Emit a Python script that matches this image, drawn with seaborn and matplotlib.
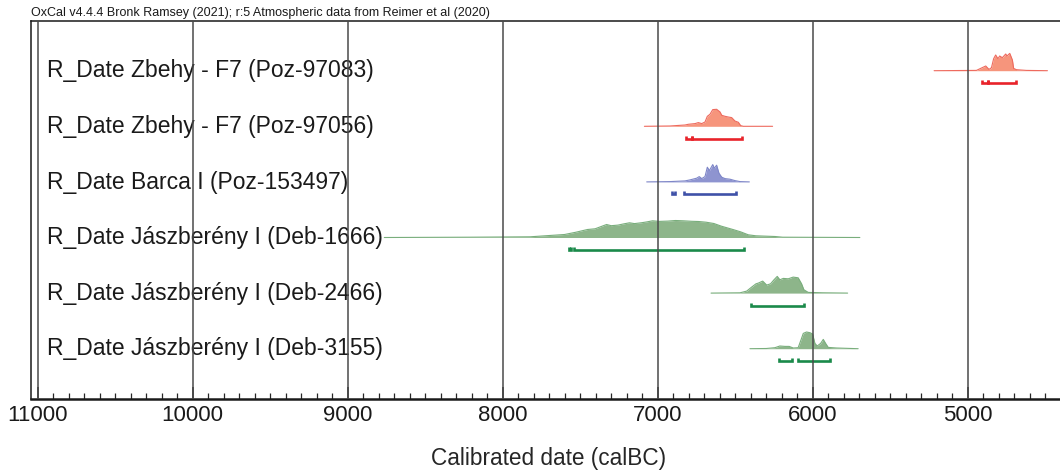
import matplotlib
matplotlib.use("Agg")
import matplotlib.pyplot as plt
import matplotlib.transforms as mtransforms
from matplotlib.ticker import MultipleLocator
import seaborn as sns

# sample labels, top to bottom
labels = [
    "R_Date Zbehy - F7 (Poz-97083)",
    "R_Date Zbehy - F7 (Poz-97056)",
    "R_Date Barca I (Poz-153497)",
    "R_Date Jászberény I (Deb-1666)",
    "R_Date Jászberény I (Deb-2466)",
    "R_Date Jászberény I (Deb-3155)",
]

# calibrated curves: calBC years and relative probability
poz97083_cal = [5217, 4944, 4884, 4863, 4847, 4833, 4820, 4805, 4794, 4777, 4755, 4747, 4729, 4712, 4704, 4686, 4622, 4486]
poz97083_prob = [0, 0.3, 4.7, 1.3, 3, 12, 15.7, 12, 14.7, 13, 16.7, 14.7, 17.3, 10.7, 2.3, 1, 0.3, 0]

poz97056_cal = [7086, 6921, 6824, 6803, 6759, 6738, 6716, 6695, 6680, 6663, 6645, 6620, 6598, 6587, 6566, 6545, 6523, 6502, 6480, 6465, 6448, 6259]
poz97056_prob = [0, 0.3, 1.3, 2, 2.7, 3.7, 2.7, 4.3, 10, 12, 16.7, 17, 14.3, 11, 10, 9.3, 8.7, 5.3, 4, 0.7, 0, 0]

poz153497_cal = [7071, 6921, 6824, 6792, 6749, 6732, 6716, 6695, 6680, 6667, 6645, 6635, 6620, 6605, 6587, 6566, 6534, 6502, 6469, 6409]
poz153497_prob = [0, 0.3, 1, 2, 3.7, 5.3, 3.3, 5.3, 14.7, 11.3, 17.3, 13.7, 16.7, 8.7, 4.7, 3.3, 2.7, 1.3, 0.3, 0]

deb1666_cal = [8764, 8218, 7823, 7601, 7527, 7453, 7404, 7330, 7300, 7256, 7220, 7182, 7150, 7107, 7070, 7033, 6990, 6935, 6885, 6836, 6780, 6737, 6688, 6638, 6589, 6515, 6466, 6416, 6367, 6244, 6194, 5696]
deb1666_prob = [0, 0.3, 0.7, 3, 5.3, 8, 8.7, 13, 11.8, 12.4, 13.6, 14.7, 13.9, 14.7, 15.6, 16.7, 16.1, 16.4, 17, 16.7, 16.2, 16, 15.3, 14, 11.3, 8, 5.7, 2.7, 1.7, 1, 0.3, 0]

deb2466_cal = [6656, 6469, 6426, 6394, 6366, 6351, 6323, 6297, 6272, 6250, 6229, 6212, 6190, 6158, 6126, 6094, 6072, 6057, 6029, 5933, 5775]
deb2466_prob = [0, 0.3, 2, 6, 9.3, 10, 12, 8, 9.3, 13.3, 16.7, 13.3, 14.7, 14.3, 16, 15.3, 9.3, 3.3, 0.7, 0.3, 0]

deb3155_cal = [6405, 6300, 6244, 6212, 6179, 6152, 6126, 6094, 6076, 6061, 6040, 6018, 6001, 5986, 5971, 5949, 5932, 5917, 5900, 5846, 5707]
deb3155_prob = [0, 0.2, 1, 2.7, 2.3, 2.3, 0.7, 1, 8.7, 15.3, 16.7, 16, 14.7, 5.3, 2.7, 5.3, 9.3, 5.3, 1.3, 0.7, 0]

# 95.4% ranges (calBC from, to)
poz97083_ranges = [(4905, 4872), (4868, 4691)]
poz97056_ranges = [(6820, 6782), (6776, 6459)]
poz153497_ranges = [(6908, 6891), (6828, 6495)]
deb1666_ranges = [(7575, 7558), (7540, 6446)]
deb2466_ranges = [(6398, 6057)]
deb3155_ranges = [(6218, 6136), (6098, 5889)]

curves = [
    (poz97083_cal, poz97083_prob, poz97083_ranges),
    (poz97056_cal, poz97056_prob, poz97056_ranges),
    (poz153497_cal, poz153497_prob, poz153497_ranges),
    (deb1666_cal, deb1666_prob, deb1666_ranges),
    (deb2466_cal, deb2466_prob, deb2466_ranges),
    (deb3155_cal, deb3155_prob, deb3155_ranges),
]

# colours: (fill, outline, range bar)
red = ("#F6957C", "#EE6A5E", "#E8232A")
blue = ("#8E94D0", "#7E86C8", "#3F51A8")
green = ("#8DB58A", "#79AE7C", "#1A8A4A")
row_colors = [red, red, blue, green, green, green]

sns.set_style("white")
plt.rcParams["font.family"] = ["Liberation Sans", "DejaVu Sans"]
plt.rcParams["text.color"] = "#1a1a1a"

fig = plt.figure(figsize=(10.6, 4.74), dpi=100)
ax = fig.add_axes([31 / 1060, 1 - 399 / 474, 1031 / 1060, 378 / 474])

row_px = 55.6          # pixel height of one row
scale = 1 / row_px     # probability units -> rows
bar_off = 12.5 / row_px
tick_h = 3 / row_px

for i, ((cal, prob, ranges), (fc, lc, bc)) in enumerate(zip(curves, row_colors)):
    top = [i - p * scale for p in prob]
    ax.fill_between(cal, i, top, color=fc, lw=0, zorder=2)
    sns.lineplot(x=cal, y=top, ax=ax, color=lc, lw=0.8, sort=False, zorder=3)
    yb = i + bar_off
    for a, b in ranges:
        ax.plot([a, a, b, b], [yb - tick_h, yb, yb, yb - tick_h], color=bc,
                lw=1.9, solid_capstyle="butt", solid_joinstyle="miter", zorder=3)

# row labels
trans = mtransforms.blended_transform_factory(ax.transAxes, ax.transData)
for i, lab in enumerate(labels):
    ax.text(0.0152, i + 6.6 / row_px, lab, transform=trans, ha="left", va="baseline",
            fontsize=16.5, zorder=1)

ax.set_xlim(11043, 4392)
ax.set_ylim((378 - 49.7) / row_px, -49.7 / row_px)

ax.xaxis.set_major_locator(MultipleLocator(1000))
ax.xaxis.set_minor_locator(MultipleLocator(100))
ax.set_yticks([])
ax.tick_params(axis="x", which="major", direction="in", length=9, width=1.1,
               labelsize=16, pad=4, colors="#1a1a1a", bottom=True, top=False)
ax.tick_params(axis="x", which="minor", direction="in", length=4.5, width=0.9,
               bottom=True, top=False)
for yr in range(11000, 4000, -1000):
    ax.axvline(yr, color="#4a4a4a", lw=1.1, zorder=4)

for side in ["top", "left"]:
    ax.spines[side].set_color("#1a1a1a")
    ax.spines[side].set_linewidth(1.1)
ax.spines["bottom"].set_color("#1a1a1a")
ax.spines["bottom"].set_linewidth(1.8)
ax.spines["right"].set_visible(False)

ax.set_xlabel("Calibrated date (calBC)", fontsize=16.3)
ax.xaxis.set_label_coords((549 - 31) / 1031, -48 / 378)
ax.xaxis.label.set_va("top")

fig.text(31 / 1060, 1 - 13 / 474, "OxCal v4.4.4 Bronk Ramsey (2021); r:5 Atmospheric data from Reimer et al (2020)",
         fontsize=9.0, ha="left", va="center")

fig.savefig("out.png", dpi=100)
